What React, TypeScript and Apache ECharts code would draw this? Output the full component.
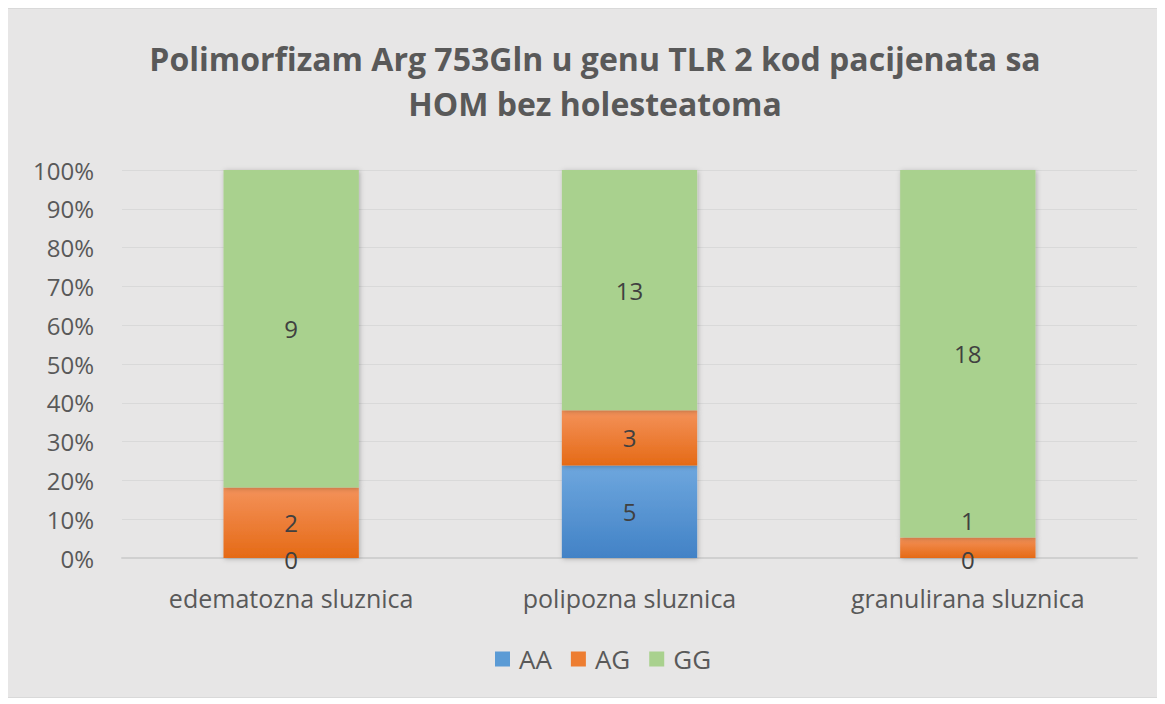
import React, { useEffect, useRef } from "react";
import * as echarts from "echarts";

const categories = ["edematozna sluznica", "polipozna sluznica", "granulirana sluznica"];
const seriesNames = ["AA", "AG", "GG"];
const aaCounts = [0, 5, 0];
const agCounts = [2, 3, 1];
const ggCounts = [9, 13, 18];
const yTickLabels = ["0%", "10%", "20%", "30%", "40%", "50%", "60%", "70%", "80%", "90%", "100%"];

const FONT = "'Open Sans', sans-serif";
const TEXT = "#595959";

export default function App() {
  const ref = useRef<HTMLDivElement>(null);
  useEffect(() => {
    if (!ref.current) return;
    const chart = echarts.init(ref.current, undefined, { renderer: "svg" });
    const totals = categories.map((_, i) => aaCounts[i] + agCounts[i] + ggCounts[i]);
    const counts = [aaCounts, agCounts, ggCounts];
    const fills = [
      new echarts.graphic.LinearGradient(0, 0, 0, 1, [
        { offset: 0, color: "#6ea7de" },
        { offset: 1, color: "#4282c6" },
      ]),
      new echarts.graphic.LinearGradient(0, 0, 0, 1, [
        { offset: 0, color: "#f4925a" },
        { offset: 1, color: "#e56a16" },
      ]),
      "#a9d18e",
    ];
    const legendColors = ["#5b9bd5", "#ed7d31", "#a9d18e"];
    const series = seriesNames.map((name, s) => ({
      name,
      type: "bar",
      stack: "total",
      barWidth: "40%",
      itemStyle: {
        color: fills[s],
        shadowBlur: 5,
        shadowColor: "rgba(0,0,0,0.25)",
        shadowOffsetX: 1,
        shadowOffsetY: 1,
      },
      label: {
        show: true,
        position: "inside",
        fontFamily: FONT,
        fontSize: 24,
        color: "#404040",
        formatter: (p: any) => String(counts[s][p.dataIndex]),
      },
      data: categories.map((_, i) => {
        const v = (counts[s][i] / totals[i]) * 100;
        const item: any = { value: v };
        if (counts[s][i] === 0) {
          item.label = { position: "insideBottom", offset: [0, 18] };
        }
        if (s === 1 && i === 2) {
          item.label = { position: "inside", offset: [0, -27] };
        }
        return item;
      }),
    }));
    chart.setOption({
      animation: false,
      backgroundColor: "#e7e6e6",
      color: legendColors,
      title: {
        text: "Polimorfizam Arg 753Gln u genu TLR 2 kod pacijenata sa\nHOM bez holesteatoma",
        left: 582,
        top: 22,
        textAlign: "center",
        textStyle: {
          fontFamily: FONT,
          fontSize: 32,
          fontWeight: "bold",
          color: TEXT,
          lineHeight: 45,
        },
      },
      legend: {
        bottom: 20,
        left: 482,
        itemWidth: 15,
        itemHeight: 15,
        itemGap: 19,
        icon: "rect",
        textStyle: { fontFamily: FONT, fontSize: 26, color: TEXT, padding: [0, 0, 0, 4] },
        data: seriesNames.map((n, i) => ({ name: n, itemStyle: { color: legendColors[i] } })),
      },
      grid: { left: 114, right: 20, top: 161, bottom: 139, containLabel: false },
      xAxis: {
        type: "category",
        data: categories,
        axisTick: { show: false },
        axisLine: { lineStyle: { color: "#d0d0d0", width: 2 } },
        axisLabel: { fontFamily: FONT, fontSize: 25, color: TEXT, margin: 27 },
      },
      yAxis: {
        type: "value",
        min: 0,
        max: 100,
        interval: 10,
        axisLine: { show: false },
        axisTick: { show: false },
        splitLine: { lineStyle: { color: "#d9d9d9", width: 1 } },
        axisLabel: {
          fontFamily: FONT,
          fontSize: 24,
          color: TEXT,
          margin: 28,
          formatter: (v: number) => yTickLabels[Math.round(v / 10)],
        },
      },
      series,
    });
    return () => chart.dispose();
  }, []);
  return (
    <div
      ref={ref}
      style={{
        width: 1151,
        height: 690,
        boxSizing: "border-box",
        border: "1px solid #d9d9d9",
        marginLeft: -1,
      }}
    />
  );
}
